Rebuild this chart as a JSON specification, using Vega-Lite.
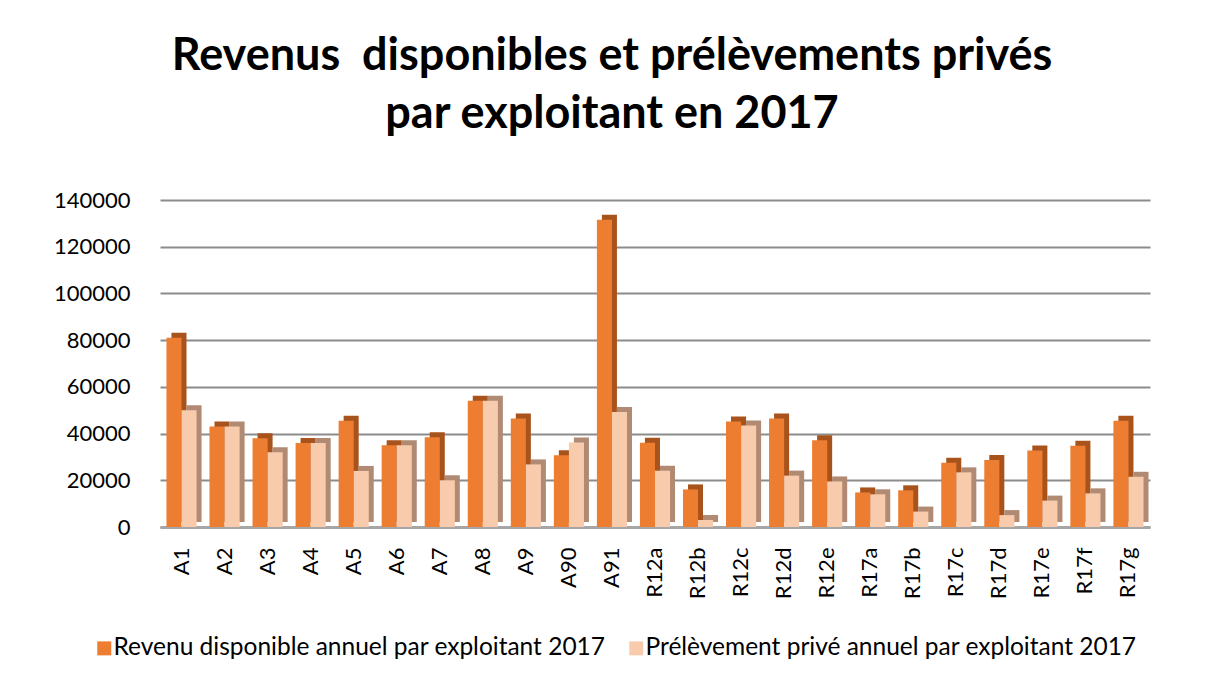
{
  "$schema": "https://vega.github.io/schema/vega-lite/v6.json",
  "width": 990,
  "height": 327,
  "autosize": "none",
  "padding": {"left": 160, "top": 200, "right": 64, "bottom": 153},
  "background": "white",
  "config": {
    "view": {"stroke": null},
    "font": "Lato",
    "axis": {"labelFont": "Lato", "labelFontSize": 22, "labelColor": "#000000"}
  },
  "title": {
    "text": ["Revenus\u00a0 disponibles et prélèvements privés", "par exploitant en 2017"],
    "font": "Lato",
    "fontSize": 45,
    "fontWeight": "bold",
    "lineHeight": 58,
    "color": "#000000",
    "anchor": "middle",
    "dx": -43,
    "offset": 52
  },
  "data": {
    "values": [
      {"cat": "A1", "serie": "Revenu disponible annuel par exploitant 2017", "valeur": 81000},
      {"cat": "A1", "serie": "Prélèvement privé annuel par exploitant 2017", "valeur": 50000},
      {"cat": "A2", "serie": "Revenu disponible annuel par exploitant 2017", "valeur": 43000},
      {"cat": "A2", "serie": "Prélèvement privé annuel par exploitant 2017", "valeur": 43000},
      {"cat": "A3", "serie": "Revenu disponible annuel par exploitant 2017", "valeur": 38000},
      {"cat": "A3", "serie": "Prélèvement privé annuel par exploitant 2017", "valeur": 32000},
      {"cat": "A4", "serie": "Revenu disponible annuel par exploitant 2017", "valeur": 36000},
      {"cat": "A4", "serie": "Prélèvement privé annuel par exploitant 2017", "valeur": 36000},
      {"cat": "A5", "serie": "Revenu disponible annuel par exploitant 2017", "valeur": 45500},
      {"cat": "A5", "serie": "Prélèvement privé annuel par exploitant 2017", "valeur": 24000},
      {"cat": "A6", "serie": "Revenu disponible annuel par exploitant 2017", "valeur": 35000},
      {"cat": "A6", "serie": "Prélèvement privé annuel par exploitant 2017", "valeur": 35000},
      {"cat": "A7", "serie": "Revenu disponible annuel par exploitant 2017", "valeur": 38400},
      {"cat": "A7", "serie": "Prélèvement privé annuel par exploitant 2017", "valeur": 20000},
      {"cat": "A8", "serie": "Revenu disponible annuel par exploitant 2017", "valeur": 54000},
      {"cat": "A8", "serie": "Prélèvement privé annuel par exploitant 2017", "valeur": 54000},
      {"cat": "A9", "serie": "Revenu disponible annuel par exploitant 2017", "valeur": 46400},
      {"cat": "A9", "serie": "Prélèvement privé annuel par exploitant 2017", "valeur": 26800},
      {"cat": "A90", "serie": "Revenu disponible annuel par exploitant 2017", "valeur": 30700},
      {"cat": "A90", "serie": "Prélèvement privé annuel par exploitant 2017", "valeur": 36200},
      {"cat": "A91", "serie": "Revenu disponible annuel par exploitant 2017", "valeur": 131500},
      {"cat": "A91", "serie": "Prélèvement privé annuel par exploitant 2017", "valeur": 49200},
      {"cat": "R12a", "serie": "Revenu disponible annuel par exploitant 2017", "valeur": 36100},
      {"cat": "R12a", "serie": "Prélèvement privé annuel par exploitant 2017", "valeur": 24100},
      {"cat": "R12b", "serie": "Revenu disponible annuel par exploitant 2017", "valeur": 16100},
      {"cat": "R12b", "serie": "Prélèvement privé annuel par exploitant 2017", "valeur": 3000},
      {"cat": "R12c", "serie": "Revenu disponible annuel par exploitant 2017", "valeur": 45200},
      {"cat": "R12c", "serie": "Prélèvement privé annuel par exploitant 2017", "valeur": 43500},
      {"cat": "R12d", "serie": "Revenu disponible annuel par exploitant 2017", "valeur": 46400},
      {"cat": "R12d", "serie": "Prélèvement privé annuel par exploitant 2017", "valeur": 22000},
      {"cat": "R12e", "serie": "Revenu disponible annuel par exploitant 2017", "valeur": 37100},
      {"cat": "R12e", "serie": "Prélèvement privé annuel par exploitant 2017", "valeur": 19500},
      {"cat": "R17a", "serie": "Revenu disponible annuel par exploitant 2017", "valeur": 14800},
      {"cat": "R17a", "serie": "Prélèvement privé annuel par exploitant 2017", "valeur": 14000},
      {"cat": "R17b", "serie": "Revenu disponible annuel par exploitant 2017", "valeur": 15700},
      {"cat": "R17b", "serie": "Prélèvement privé annuel par exploitant 2017", "valeur": 6600},
      {"cat": "R17c", "serie": "Revenu disponible annuel par exploitant 2017", "valeur": 27500},
      {"cat": "R17c", "serie": "Prélèvement privé annuel par exploitant 2017", "valeur": 23400},
      {"cat": "R17d", "serie": "Revenu disponible annuel par exploitant 2017", "valeur": 28700},
      {"cat": "R17d", "serie": "Prélèvement privé annuel par exploitant 2017", "valeur": 5100},
      {"cat": "R17e", "serie": "Revenu disponible annuel par exploitant 2017", "valeur": 32700},
      {"cat": "R17e", "serie": "Prélèvement privé annuel par exploitant 2017", "valeur": 11300},
      {"cat": "R17f", "serie": "Revenu disponible annuel par exploitant 2017", "valeur": 34800},
      {"cat": "R17f", "serie": "Prélèvement privé annuel par exploitant 2017", "valeur": 14400},
      {"cat": "R17g", "serie": "Revenu disponible annuel par exploitant 2017", "valeur": 45500},
      {"cat": "R17g", "serie": "Prélèvement privé annuel par exploitant 2017", "valeur": 21500}
    ]
  },
  "encoding": {
    "x": {
      "field": "cat",
      "type": "nominal",
      "sort": null,
      "title": null,
      "scale": {"paddingInner": 0.3, "paddingOuter": 0.15},
      "axis": {
        "labelAngle": -90,
        "labelPadding": 20,
        "ticks": false,
        "domain": true,
        "domainColor": "#a6a6a6",
        "domainWidth": 3
      }
    },
    "y": {
      "field": "valeur",
      "type": "quantitative",
      "title": null,
      "scale": {"domain": [0, 140000], "nice": false},
      "axis": {
        "values": [0, 20000, 40000, 60000, 80000, 100000, 120000, 140000],
        "format": "d",
        "labelPadding": 30,
        "ticks": false,
        "domain": false,
        "grid": true,
        "gridColor": "#8c8c8c",
        "gridWidth": 2
      }
    }
  },
  "layer": [
    {
      "mark": {"type": "bar", "yOffset": -5, "y2Offset": -5},
      "encoding": {
        "xOffset": {
          "field": "serie",
          "type": "nominal",
          "sort": ["Revenu disponible annuel par exploitant 2017", "Prélèvement privé annuel par exploitant 2017"],
          "scale": {"range": [5, 35.1]}
        },
        "color": {
          "field": "serie",
          "type": "nominal",
          "scale": {
            "domain": ["Revenu disponible annuel par exploitant 2017", "Prélèvement privé annuel par exploitant 2017"],
            "range": ["#a9531c", "#b08a72"]
          },
          "legend": null
        }
      }
    },
    {
      "mark": {"type": "bar"},
      "encoding": {
        "xOffset": {
          "field": "serie",
          "type": "nominal",
          "sort": ["Revenu disponible annuel par exploitant 2017", "Prélèvement privé annuel par exploitant 2017"]
        },
        "color": {
          "field": "serie",
          "type": "nominal",
          "scale": {
            "domain": ["Revenu disponible annuel par exploitant 2017", "Prélèvement privé annuel par exploitant 2017"],
            "range": ["#ed7d31", "#f8cbad"]
          },
          "legend": {
            "title": null,
            "orient": "none",
            "direction": "horizontal",
            "legendX": -68,
            "legendY": 436,
            "symbolType": "square",
            "symbolSize": 196,
            "symbolStrokeWidth": 0,
            "labelFont": "Lato",
            "labelFontSize": 24.5,
            "labelColor": "#000000",
            "labelLimit": 700,
            "columnPadding": 18,
            "labelOffset": -3
          }
        }
      }
    }
  ],
  "resolve": {"scale": {"color": "independent", "xOffset": "independent"}}
}
